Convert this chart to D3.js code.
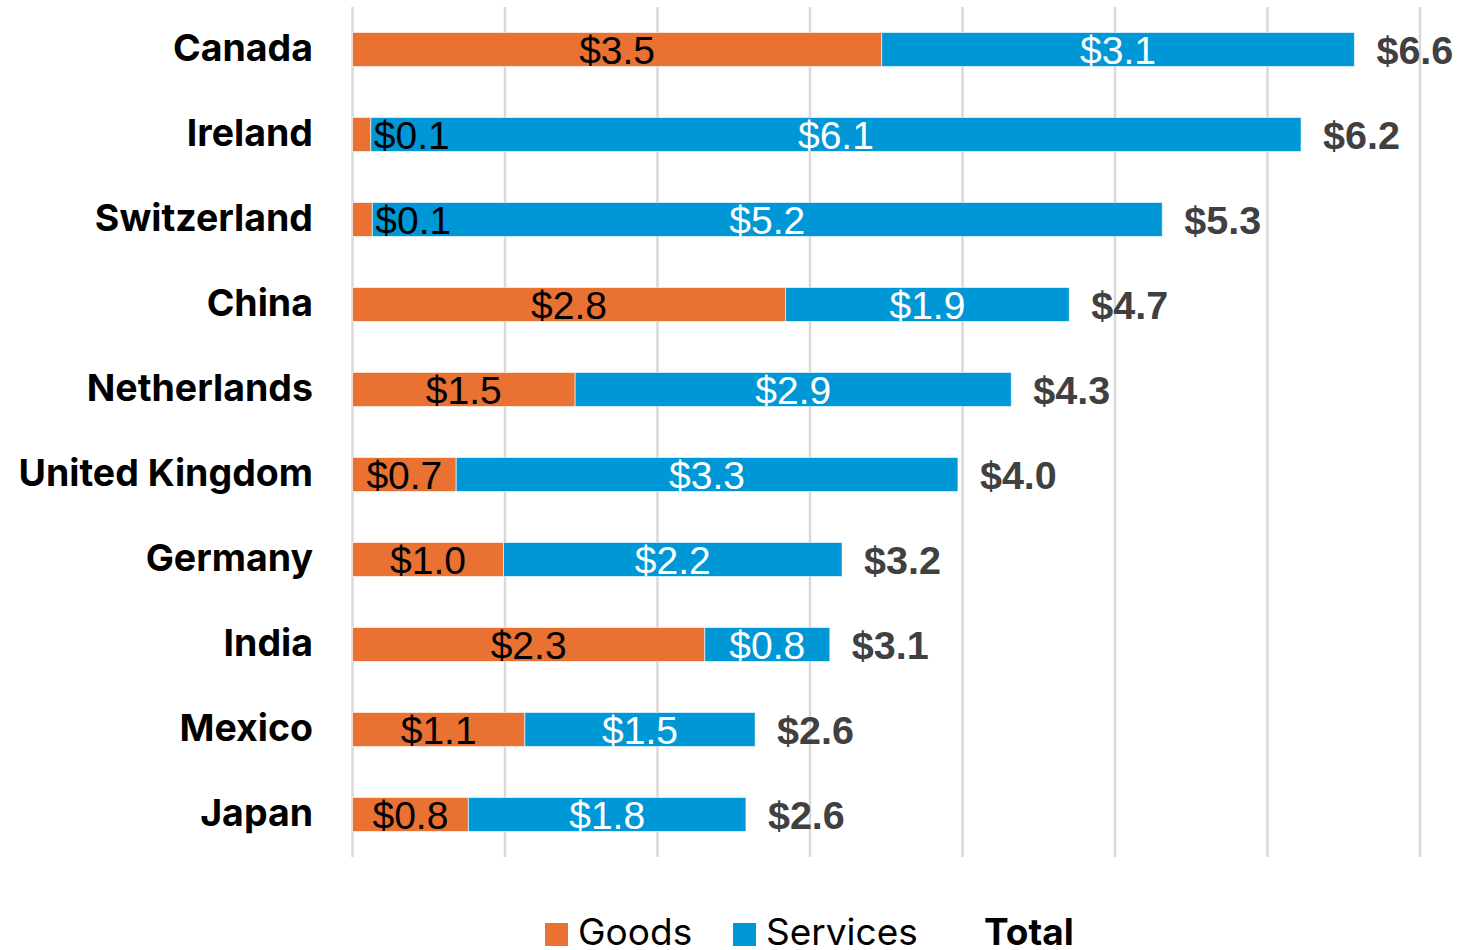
<!DOCTYPE html>
<html>
<head>
<meta charset="utf-8">
<script src="https://cdn.jsdelivr.net/npm/d3@7"></script>
<style>
  body { margin: 0; background: #fff; }
  svg { display: block; }
</style>
</head>
<body>
<div id="root"></div>
<script>
// data ($ values)
var countries = ["Canada", "Ireland", "Switzerland", "China", "Netherlands",
  "United Kingdom", "Germany", "India", "Mexico", "Japan"];
var goods    = [3.47, 0.12, 0.13, 2.84, 1.46, 0.68, 0.99, 2.31, 1.13, 0.76];
var services = [3.10, 6.10, 5.18, 1.86, 2.86, 3.29, 2.22, 0.82, 1.51, 1.82];
var seriesNames = ["Goods", "Services", "Total"];
var xTicks = [0, 1, 2, 3, 4, 5, 6, 7];

function drawChart() {
    var width = 1463;
    var height = 950;

    var svg = d3.select("#root")
        .append("svg")
        .attr("width", width)
        .attr("height", height);

    var rows = countries.map(function (c, i) {
        return { country: c, goods: goods[i], services: services[i], total: goods[i] + services[i] };
    });

    var x = d3.scaleLinear().domain([0, 7]).range([352.5, 1420]);
    var y = d3.scaleBand().domain(countries).range([7, 857])
        .paddingInner(0.6).paddingOuter(0.3);

    var colors = { Goods: "#E97132", Services: "#0097D6" };
    var labelFont = "'Liberation Sans', Arial, sans-serif";
    var catFont = "Inter, 'Open Sans', sans-serif";

    // gridlines first so bars sit on top
    svg.append("g")
        .selectAll("line")
        .data(xTicks)
        .enter().append("line")
        .attr("x1", function (d) { return x(d); })
        .attr("x2", function (d) { return x(d); })
        .attr("y1", y.range()[0])
        .attr("y2", y.range()[1])
        .attr("stroke", "#d9d9d9")
        .attr("stroke-width", 2.5);

    // category axis labels
    var yAxis = svg.append("g")
        .attr("transform", "translate(" + 313 + ",0)")
        .call(d3.axisLeft(y).tickSize(0).tickPadding(0));
    yAxis.select(".domain").remove();
    yAxis.selectAll("text")
        .attr("font-family", catFont)
        .attr("font-weight", 700)
        .attr("font-size", 37.5)
        .attr("fill", "#000")
        .attr("dy", "0.3em");

    var stack = d3.stack().keys(["goods", "services"])(rows);

    // all bars first, then the labels (small goods labels spill onto the blue)
    stack.forEach(function (layer, li) {
        svg.append("g").selectAll("rect")
            .data(layer)
            .enter().append("rect")
            .attr("x", function (d) { return x(d[0]); })
            .attr("width", function (d) { return x(d[1]) - x(d[0]); })
            .attr("y", function (d) { return y(d.data.country); })
            .attr("height", y.bandwidth())
            .attr("fill", li === 0 ? colors.Goods : colors.Services)
            .attr("stroke", "#ffffff")
            .attr("stroke-opacity", 0.6)
            .attr("stroke-width", 1);
    });

    stack.forEach(function (layer, li) {
        svg.append("g").selectAll("text")
            .data(layer)
            .enter().append("text")
            .attr("font-family", labelFont)
            .attr("font-size", 39)
            .attr("fill", li === 0 ? "#000" : "#fff")
            .attr("y", function (d) { return y(d.data.country) + y.bandwidth() / 2 + 14; })
            .text(function (d) { return "$" + (d[1] - d[0]).toFixed(1); })
            .each(function (d) {
                var t = d3.select(this);
                var w = this.getComputedTextLength();
                var segW = x(d[1]) - x(d[0]);
                if (w > segW) {
                    t.attr("text-anchor", "start").attr("x", x(d[1]) + 3);
                } else {
                    t.attr("text-anchor", "middle").attr("x", (x(d[0]) + x(d[1])) / 2);
                }
            });
    });

    // totals
    svg.append("g")
        .selectAll("text")
        .data(rows)
        .enter().append("text")
        .attr("font-family", labelFont)
        .attr("font-weight", 700)
        .attr("font-size", 39.5)
        .attr("fill", "#404040")
        .attr("x", function (d) { return x(d.total) + 22; })
        .attr("y", function (d) { return y(d.country) + y.bandwidth() / 2 + 14; })
        .text(function (d) { return "$" + d.total.toFixed(1); });

    // legend
    var legendX = [545, 733, 984];
    var legend = svg.append("g");
    seriesNames.forEach(function (name, i) {
        if (colors[name]) {
            legend.append("rect")
                .attr("x", legendX[i])
                .attr("y", 923)
                .attr("width", 23)
                .attr("height", 23)
                .attr("fill", colors[name]);
        }
        legend.append("text")
            .attr("x", colors[name] ? legendX[i] + 33 : legendX[i])
            .attr("y", 945)
            .attr("font-family", catFont)
            .attr("font-weight", name === "Total" ? 700 : 400)
            .attr("font-size", 37)
            .attr("fill", "#000")
            .text(name);
    });
}

drawChart();
</script>
</body>
</html>
